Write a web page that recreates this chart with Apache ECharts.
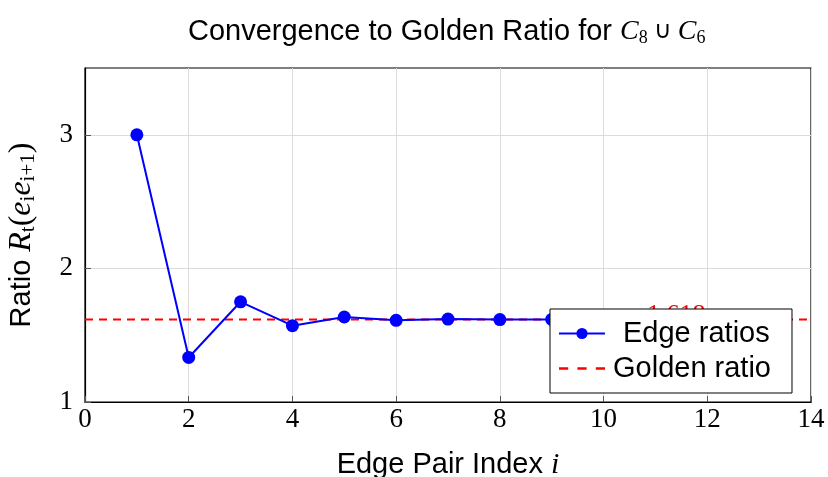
<!DOCTYPE html>
<html><head><meta charset="utf-8">
<script src="https://cdn.jsdelivr.net/npm/echarts@6/dist/echarts.min.js"></script>
<style>html,body{margin:0;padding:0;background:#fff}#c{width:828px;height:477px}</style>
</head><body><div id="c"></div>
<script>
const edgeIndex = [1,2,3,4,5,6,7,8,9,10,11,12,13];
const edgeRatios = [3.0,1.3333,1.75,1.5714,1.6364,1.6111,1.6207,1.6170,1.6184,1.6179,1.6181,1.6180,1.6180];
const goldenRatio = 1.618;
const goldenX = [0,14];
const xTicks = [0,2,4,6,8,10,12,14];
const yTicks = [1,2,3];
const goldenLabel = '1.618';
const goldenLabelX = 11.4;

const chart = echarts.init(document.getElementById('c'));
const serif = 'Liberation Serif';
const sans = 'Liberation Sans';
chart.setOption({
  animation:false,
  backgroundColor:'#fff',
  title:{
    text:'Convergence to Golden Ratio for {m|C}{s|8}{o| ∪ }{m|C}{s|6}',
    left:183, top:12,
    textStyle:{fontFamily:sans,fontSize:29,fontWeight:'normal',color:'#000',
      rich:{
        m:{fontFamily:serif,fontStyle:'italic',fontSize:28,color:'#000'},
        s:{fontFamily:serif,fontSize:18,color:'#000',padding:[12,0,0,0]},
        o:{fontFamily:serif,fontSize:24,color:'#000'}
      }}
  },
  grid:{left:85,right:17,top:68,bottom:75,outerBoundsMode:'none',containLabel:false,
    show:true,borderColor:'#000',borderWidth:1.2,backgroundColor:'transparent'},
  legend:{
    orient:'vertical', left:550, top:309, z:20,
    backgroundColor:'#fff', borderColor:'#000', borderWidth:1, borderRadius:0,
    padding:[10,21,10,8], itemGap:6, itemWidth:46, itemHeight:14,
    textStyle:{fontFamily:sans,fontSize:29,color:'#000'},
    data:[
      {name:'Edge ratios',textStyle:{padding:[0,0,0,13]}},
      {name:'Golden ratio',textStyle:{padding:[0,0,0,3]},icon:'path://M0,6h8v2h-8zM16,6h8v2h-8zM32,6h8v2h-8z'}
    ]
  },
  xAxis:{
    type:'value', min:0, max:14, interval:2,
    name:'Edge Pair Index {i|i}', nameLocation:'middle', nameGap:48,
    nameTextStyle:{fontFamily:sans,fontSize:29,color:'#000',
      rich:{i:{fontFamily:serif,fontStyle:'italic',fontSize:30,color:'#000'}}},
    axisLine:{show:true,onZero:false,lineStyle:{color:'#000',width:1.2}},
    axisTick:{show:true,inside:true,length:6,lineStyle:{color:'#555'}},
    axisLabel:{fontFamily:serif,fontSize:27,color:'#000',margin:4},
    splitLine:{show:true,lineStyle:{color:'#dcdcdc',width:1}}
  },
  yAxis:{
    type:'value', min:1, max:3.5, interval:1,
    name:'Ratio {m|R}{s|t}{n|(}{m|e}{s|i}{m|e}{s|i+1}{n|)}', nameLocation:'middle', nameGap:46,
    nameTextStyle:{fontFamily:sans,fontSize:29,color:'#000',
      rich:{
        m:{fontFamily:serif,fontStyle:'italic',fontSize:32,color:'#000'},
        s:{fontFamily:serif,fontSize:21,color:'#000',padding:[14,0,0,0]},
        n:{fontFamily:serif,fontSize:32,color:'#000'}
      }},
    axisLine:{show:true,lineStyle:{color:'#000',width:1.2}},
    axisTick:{show:true,inside:true,length:6,lineStyle:{color:'#555'},customValues:yTicks},
    axisLabel:{fontFamily:serif,fontSize:27,color:'#000',margin:12,customValues:yTicks},
    splitLine:{show:true,lineStyle:{color:'#dcdcdc',width:1}}
  },
  series:[
    {
      name:'Golden ratio', type:'line', z:2,
      data:goldenX.map(x=>[x,goldenRatio]),
      showSymbol:false, symbol:'none',
      lineStyle:{color:'#ff0000',width:2,type:[8,6]},
      itemStyle:{color:'#ff0000'},
      markPoint:{
        symbol:'rect', symbolSize:1, itemStyle:{color:'transparent'},
        label:{show:true,position:'top',distance:-9,formatter:goldenLabel,fontFamily:serif,fontSize:26,color:'#ff0000'},
        data:[{coord:[goldenLabelX,goldenRatio]}]
      }
    },
    {
      name:'Edge ratios', type:'line', z:3,
      data:edgeIndex.map((x,i)=>[x,edgeRatios[i]]),
      symbol:'circle', symbolSize:13,
      lineStyle:{color:'#0000ff',width:2},
      itemStyle:{color:'#0000ff'}
    }
  ]
});
</script></body></html>
